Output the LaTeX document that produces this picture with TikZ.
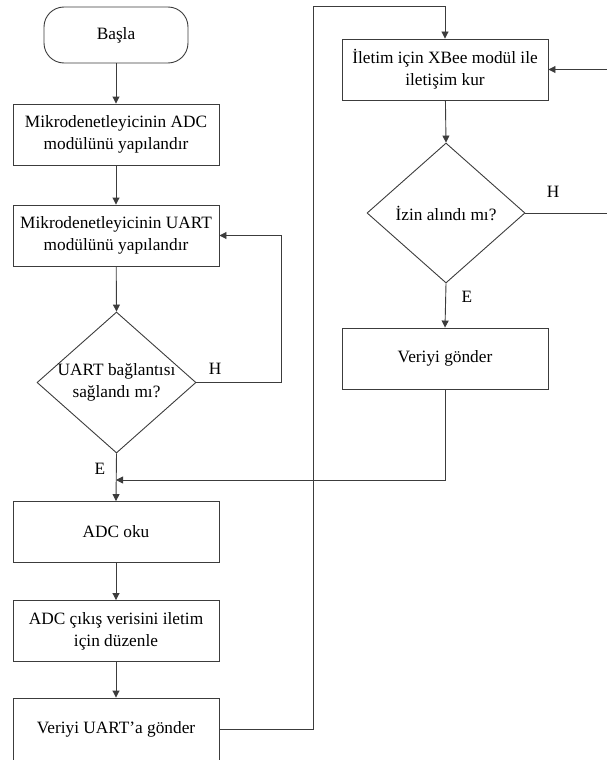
\documentclass[tikz,border=0pt]{standalone}
\usepackage{fontspec}
\setmainfont{Liberation Serif}
\usetikzlibrary{shapes.geometric,arrows.meta}
\definecolor{lc}{RGB}{60,60,60}
\begin{document}
\begin{tikzpicture}[x=1pt,y=-1pt,
  line/.style={draw=lc, line width=0.9pt},
  arr/.style={line, -{Triangle[length=7pt,width=7pt]}},
  txt/.style={font=\fontsize{17.3}{22}\selectfont, align=center, inner sep=0pt},
  proc/.style={txt, draw=lc, line width=0.9pt, minimum width=206pt, minimum height=61pt},
  term/.style={txt, draw=lc, line width=0.9pt, minimum width=144pt, minimum height=56pt, rounded corners=20pt},
  dec/.style={draw=lc, line width=0.9pt, diamond, inner sep=0pt, minimum width=159pt, minimum height=141pt},
  lbl/.style={txt}
]
\useasboundingbox (0,0) rectangle (606,760);

\node[term] (start) at (116,35) {Başla};
\node[proc] (b1) at (116,134.5) {Mikrodenetleyicinin ADC\\modülünü yapılandır};
\node[proc] (b2) at (116,235.5) {Mikrodenetleyicinin UART\\modülünü yapılandır};
\node[dec] (d1) at (116.5,382.5) {};
\node[txt] (d1t) at (116.5,382.5) {UART bağlantısı\\sağlandı mı?};
\node[proc] (b3) at (116,532) {ADC oku};
\node[proc] (b4) at (116,631) {ADC çıkış verisini iletim\\için düzenle};
\node[proc, minimum height=62pt] (b5) at (116,729) {Veriyi UART’a gönder};

\node[proc] (x1) at (445,69.5) {İletim için XBee modül ile\\iletişim kur};
\node[dec, minimum width=158pt, minimum height=140pt] (d2) at (446,213) {};
\node[txt] (d2t) at (446,213) {İzin alındı mı?};
\node[proc] (x2) at (445,358.5) {Veriyi gönder};

\node[lbl] (h1) at (215,369) {H};
\node[lbl] (e1) at (100,469) {E};
\node[lbl] (h2) at (553,192) {H};
\node[lbl] (e2) at (467,297) {E};

\coordinate (l1) at (281,382.5);
\coordinate (m1) at (116,480);
\coordinate (c1) at (313,6);
\coordinate (r1) at (612,213);
\coordinate (r2) at (612,69.5);

\draw[arr] (start) -- (b1);
\draw[arr] (b1) -- (b2);
\draw[arr] (b2) -- (d1.north);
\draw[arr] (d1.east) -- (l1) |- (b2.east);
\draw[arr] (d1.south) -- (b3.north);
\draw[arr] (x2.south) |- (m1);
\draw[arr] (b3) -- (b4);
\draw[arr] (b4) -- (b5);
\draw[arr] (b5.east) -| (c1) -| (x1.north);
\draw[arr] (x1) -- (d2.north);
\draw[arr] (d2.south) -- (x2.north);
\draw[line] (d2.east) -- (r1);
\draw[arr] (r2) -- (x1.east);
\end{tikzpicture}
\end{document}
